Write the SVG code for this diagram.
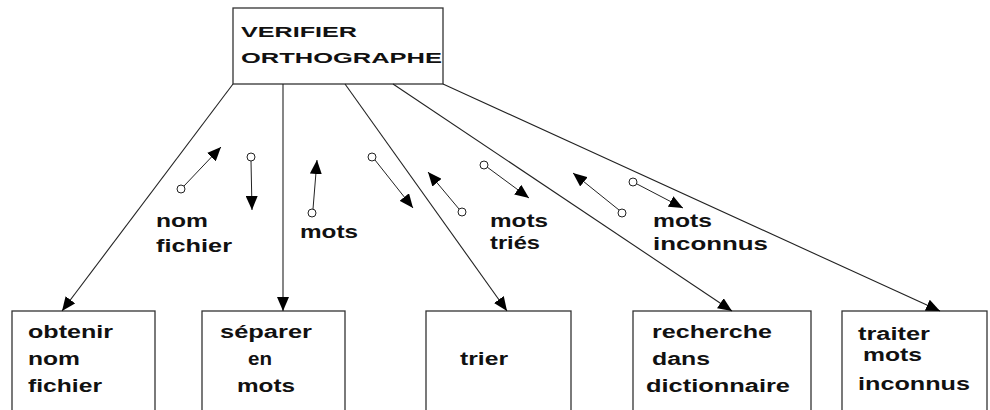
<svg xmlns="http://www.w3.org/2000/svg" width="990" height="410" viewBox="0 0 990 410">
<style>
.box{fill:#fff;stroke:#333;stroke-width:1.3}
.t{font-family:"Liberation Sans",Arial,sans-serif;font-weight:bold;font-size:18px;fill:#111}
.tt{font-family:"Liberation Sans",Arial,sans-serif;font-weight:bold;font-size:15px;fill:#111}
.c{stroke:#222;stroke-width:1.1;fill:none}
.d{stroke:#222;stroke-width:1;fill:none}
.o{fill:#fff;stroke:#222;stroke-width:1}
</style>
<defs>
<marker id="ah" markerUnits="userSpaceOnUse" markerWidth="14" markerHeight="12" refX="14" refY="6" orient="auto">
<path d="M0,0 L14,6 L0,12 z" fill="#000"/>
</marker>
</defs>
<rect width="990" height="410" fill="#fff"/>
<g id="verifier">
<rect class="box" x="233" y="8" width="210" height="76"/>
<text class="tt" x="241" y="37" textLength="116" lengthAdjust="spacingAndGlyphs">VERIFIER</text>
<text class="tt" x="241" y="63" textLength="201" lengthAdjust="spacingAndGlyphs">ORTHOGRAPHE</text>
</g>
<g id="obtenir">
<rect class="box" x="12" y="311" width="143" height="110"/>
<text class="t" x="28" y="338" textLength="85" lengthAdjust="spacingAndGlyphs">obtenir</text>
<text class="t" x="28" y="365" textLength="52" lengthAdjust="spacingAndGlyphs">nom</text>
<text class="t" x="28" y="392" textLength="74" lengthAdjust="spacingAndGlyphs">fichier</text>
</g>
<g id="separer">
<rect class="box" x="202" y="311" width="143" height="110"/>
<text class="t" x="220" y="338" textLength="92" lengthAdjust="spacingAndGlyphs">séparer</text>
<text class="t" x="248" y="365" textLength="24" lengthAdjust="spacingAndGlyphs">en</text>
<text class="t" x="237" y="392" textLength="58" lengthAdjust="spacingAndGlyphs">mots</text>
</g>
<g id="trier">
<rect class="box" x="426" y="311" width="145" height="110"/>
<text class="t" x="460" y="365" textLength="48" lengthAdjust="spacingAndGlyphs">trier</text>
</g>
<g id="recherche">
<rect class="box" x="633" y="311" width="178" height="110"/>
<text class="t" x="652" y="338" textLength="120" lengthAdjust="spacingAndGlyphs">recherche</text>
<text class="t" x="652" y="365" textLength="58" lengthAdjust="spacingAndGlyphs">dans</text>
<text class="t" x="646" y="392" textLength="144" lengthAdjust="spacingAndGlyphs">dictionnaire</text>
</g>
<g id="traiter">
<rect class="box" x="842" y="311" width="145" height="110"/>
<text class="t" x="858" y="340" textLength="72" lengthAdjust="spacingAndGlyphs">traiter</text>
<text class="t" x="863" y="361" textLength="59" lengthAdjust="spacingAndGlyphs">mots</text>
<text class="t" x="858" y="390" textLength="112" lengthAdjust="spacingAndGlyphs">inconnus</text>
</g>
<g id="connectors">
<line class="c" x1="233" y1="84" x2="62" y2="311" marker-end="url(#ah)"/>
<line class="c" x1="283" y1="84" x2="283" y2="311" marker-end="url(#ah)"/>
<line class="c" x1="345" y1="84" x2="507" y2="311" marker-end="url(#ah)"/>
<line class="c" x1="393" y1="84" x2="732" y2="311" marker-end="url(#ah)"/>
<line class="c" x1="443" y1="84" x2="940" y2="311" marker-end="url(#ah)"/>
</g>
<g id="couples">
<line class="d" x1="184" y1="186" x2="221" y2="147" marker-end="url(#ah)"/>
<circle class="o" cx="181" cy="189" r="4"/>
<line class="d" x1="251" y1="161" x2="252" y2="210" marker-end="url(#ah)"/>
<circle class="o" cx="251" cy="157" r="4"/>
<line class="d" x1="313" y1="209" x2="317" y2="160" marker-end="url(#ah)"/>
<circle class="o" cx="312" cy="213" r="4"/>
<line class="d" x1="375" y1="160" x2="413" y2="208" marker-end="url(#ah)"/>
<circle class="o" cx="372" cy="157" r="4"/>
<line class="d" x1="459" y1="209" x2="428" y2="172" marker-end="url(#ah)"/>
<circle class="o" cx="462" cy="212" r="4"/>
<line class="d" x1="487" y1="167" x2="529" y2="198" marker-end="url(#ah)"/>
<circle class="o" cx="484" cy="165" r="4"/>
<line class="d" x1="619" y1="210" x2="573" y2="173" marker-end="url(#ah)"/>
<circle class="o" cx="622" cy="213" r="4"/>
<line class="d" x1="637" y1="184" x2="683" y2="208" marker-end="url(#ah)"/>
<circle class="o" cx="633" cy="182" r="4"/>
</g>
<g id="labels">
<text class="t" x="156" y="227" textLength="52" lengthAdjust="spacingAndGlyphs">nom</text>
<text class="t" x="156" y="252" textLength="76" lengthAdjust="spacingAndGlyphs">fichier</text>
<text class="t" x="300" y="238" textLength="58" lengthAdjust="spacingAndGlyphs">mots</text>
<text class="t" x="490" y="227" textLength="58" lengthAdjust="spacingAndGlyphs">mots</text>
<text class="t" x="490" y="249" textLength="50" lengthAdjust="spacingAndGlyphs">triés</text>
<text class="t" x="653" y="227" textLength="59" lengthAdjust="spacingAndGlyphs">mots</text>
<text class="t" x="653" y="250" textLength="115" lengthAdjust="spacingAndGlyphs">inconnus</text>
</g>
</svg>
